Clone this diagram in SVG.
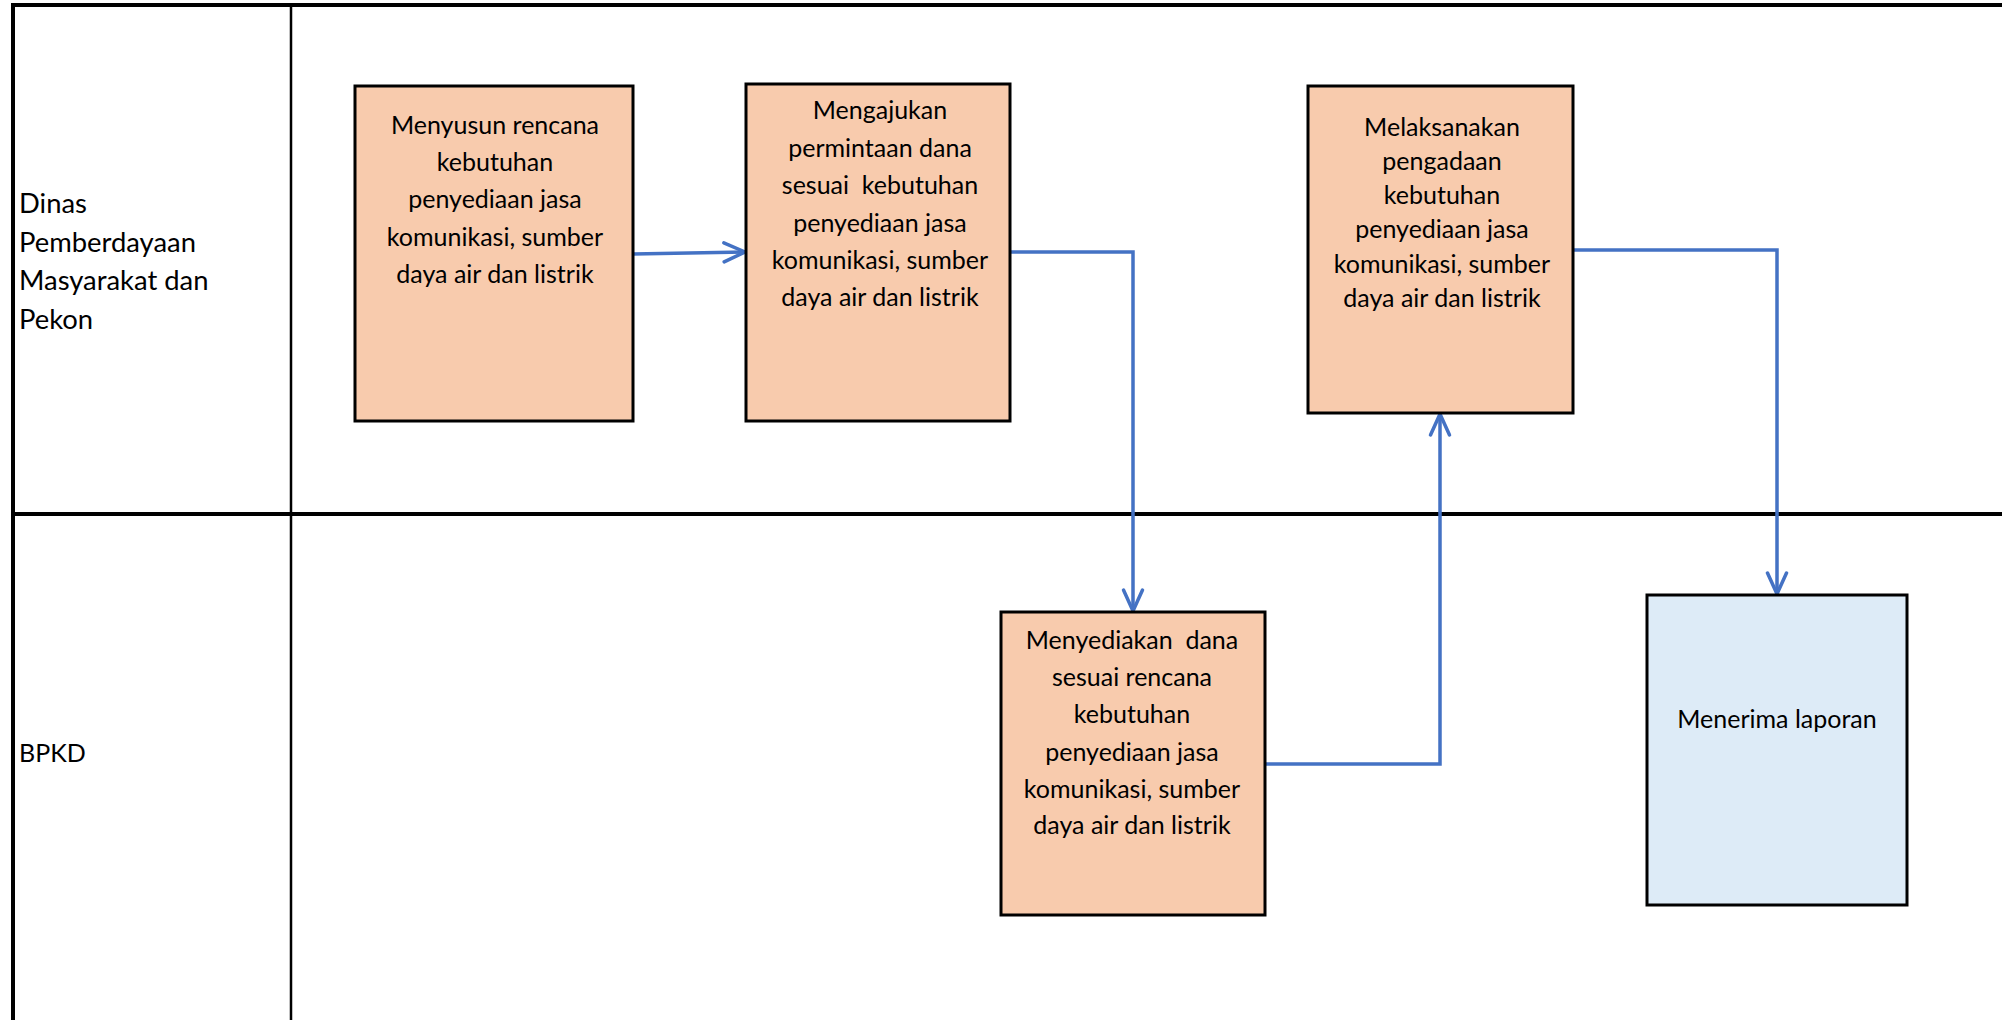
<svg xmlns="http://www.w3.org/2000/svg" width="2002" height="1020" viewBox="0 0 2002 1020">
<style>
.ln{stroke:#000;fill:none}
.box{stroke:#000;stroke-width:3}
.orange{fill:#F8CBAD}
.blue{fill:#DDEBF7}
.t{font-family:Lato,"Liberation Sans",sans-serif;font-size:25px;fill:#000;text-anchor:middle;white-space:pre}
.lbl{font-family:Lato,"Liberation Sans",sans-serif;font-size:27.4px;fill:#000;text-anchor:start}
.conn{stroke:#4472C4;stroke-width:3.5;fill:none;stroke-linejoin:miter}
</style>
<defs>
<marker id="arr" markerUnits="userSpaceOnUse" markerWidth="30" markerHeight="30" refX="21" refY="10" orient="auto" overflow="visible">
<path d="M0,0.5 L21,10 L0,19.5" fill="none" stroke="#4472C4" stroke-width="3.5" stroke-linecap="round"/>
</marker>
</defs>
<rect width="2002" height="1020" fill="#fff"/>
<g id="lanes">
<line class="ln" x1="11" y1="5" x2="2002" y2="5" stroke-width="4"/>
<line class="ln" x1="13" y1="3" x2="13" y2="1020" stroke-width="4"/>
<line class="ln" x1="291" y1="5" x2="291" y2="1020" stroke-width="2.5"/>
<line class="ln" x1="13" y1="514" x2="2002" y2="514" stroke-width="4"/>
<text class="lbl" x="19" y="213">Dinas</text>
<text class="lbl" x="19" y="252">Pemberdayaan</text>
<text class="lbl" x="19" y="290">Masyarakat dan</text>
<text class="lbl" x="19" y="329">Pekon</text>
<text class="lbl" x="19" y="762" style="font-size:25px">BPKD</text>
</g>
<g id="connectors">
<path class="conn" d="M633,254 L745,252" marker-end="url(#arr)"/>
<path class="conn" d="M1010,252 H1133 V611" marker-end="url(#arr)"/>
<path class="conn" d="M1265,764 H1440 V414" marker-end="url(#arr)"/>
<path class="conn" d="M1573,250 H1777 V594" marker-end="url(#arr)"/>
</g>
<g id="node1">
<rect class="box orange" x="355" y="86" width="278" height="335"/>
<text class="t" x="495" y="134">Menyusun rencana</text>
<text class="t" x="495" y="171">kebutuhan</text>
<text class="t" x="495" y="208">penyediaan jasa</text>
<text class="t" x="495" y="246">komunikasi, sumber</text>
<text class="t" x="495" y="283">daya air dan listrik</text>
</g>
<g id="node2">
<rect class="box orange" x="746" y="84" width="264" height="337"/>
<text class="t" x="880" y="119">Mengajukan</text>
<text class="t" x="880" y="157">permintaan dana</text>
<text class="t" x="880" y="194">sesuai  kebutuhan</text>
<text class="t" x="880" y="232">penyediaan jasa</text>
<text class="t" x="880" y="269">komunikasi, sumber</text>
<text class="t" x="880" y="306">daya air dan listrik</text>
</g>
<g id="node3">
<rect class="box orange" x="1308" y="86" width="265" height="327"/>
<text class="t" x="1442" y="136">Melaksanakan</text>
<text class="t" x="1442" y="170">pengadaan</text>
<text class="t" x="1442" y="204">kebutuhan</text>
<text class="t" x="1442" y="238">penyediaan jasa</text>
<text class="t" x="1442" y="273">komunikasi, sumber</text>
<text class="t" x="1442" y="307">daya air dan listrik</text>
</g>
<g id="node4">
<rect class="box orange" x="1001" y="612" width="264" height="303"/>
<text class="t" x="1132" y="649">Menyediakan  dana</text>
<text class="t" x="1132" y="686">sesuai rencana</text>
<text class="t" x="1132" y="723">kebutuhan</text>
<text class="t" x="1132" y="761">penyediaan jasa</text>
<text class="t" x="1132" y="798">komunikasi, sumber</text>
<text class="t" x="1132" y="834">daya air dan listrik</text>
</g>
<g id="node5">
<rect class="box blue" x="1647" y="595" width="260" height="310"/>
<text class="t" x="1777" y="728">Menerima laporan</text>
</g>
</svg>
